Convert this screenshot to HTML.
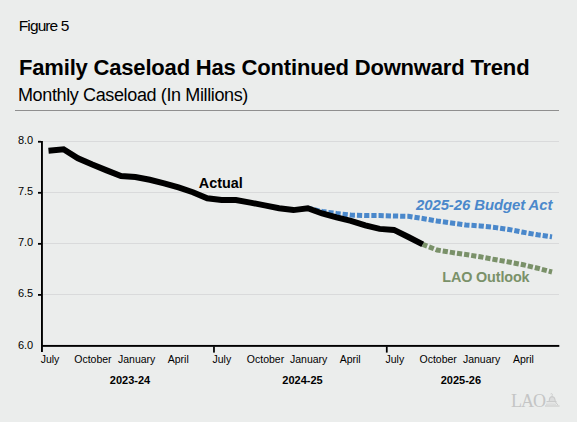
<!DOCTYPE html>
<html><head><meta charset="utf-8"><style>
html,body{margin:0;padding:0;background:#EBEDEC;}
svg{display:block;}
text{font-family:"Liberation Sans",sans-serif;}
</style></head><body>
<svg width="577" height="422" viewBox="0 0 577 422">
<rect x="0" y="0" width="577" height="422" fill="#EBEDEC"/>
<text x="18.8" y="31" font-size="15.5" letter-spacing="-0.9" fill="#000">Figure 5</text>
<text x="19" y="75" font-size="22" font-weight="bold" letter-spacing="-0.18" fill="#000">Family Caseload Has Continued Downward Trend</text>
<text x="18" y="101" font-size="18" letter-spacing="-0.37" fill="#000">Monthly Caseload (In Millions)</text>
<rect x="15" y="110" width="544" height="1" fill="#8f8f8f"/>
<g fill="#d9dadb">
<rect x="43" y="141" width="516" height="1"/>
<rect x="43" y="192" width="516" height="1"/>
<rect x="43" y="243" width="516" height="1"/>
<rect x="43" y="294" width="516" height="1"/>
</g>
<g fill="#000">
<rect x="41" y="141" width="1.9" height="211"/>
<rect x="41" y="344.95" width="518.3" height="1.9"/>
<rect x="38" y="140.85" width="3" height="1.8"/>
<rect x="38" y="191.9" width="3" height="1.8"/>
<rect x="38" y="242.95" width="3" height="1.8"/>
<rect x="38" y="294" width="3" height="1.8"/>
<rect x="213.1" y="346.5" width="1.75" height="6.1"/>
<rect x="385.9" y="346.5" width="1.75" height="6.1"/>
</g>
<g font-size="11" text-anchor="end" fill="#000">
<text x="33.2" y="144">8.0</text>
<text x="33.2" y="195">7.5</text>
<text x="33.2" y="246">7.0</text>
<text x="33.2" y="297">6.5</text>
<text x="33.2" y="349">6.0</text>
</g>
<g font-size="10.5" text-anchor="middle" fill="#000">
<text x="50" y="363">July</text>
<text x="92.9" y="363">October</text>
<text x="136.7" y="363">January</text>
<text x="178.3" y="363">April</text>
<text x="221.85" y="363">July</text>
<text x="265.5" y="363">October</text>
<text x="308.7" y="363">January</text>
<text x="350.2" y="363">April</text>
<text x="394.85" y="363">July</text>
<text x="438.2" y="363">October</text>
<text x="481.6" y="363">January</text>
<text x="523.4" y="363">April</text>
</g>
<g font-size="11" font-weight="bold" text-anchor="middle" fill="#000">
<text x="130" y="384">2023-24</text>
<text x="302.5" y="384">2024-25</text>
<text x="460.9" y="384">2025-26</text>
</g>
<polyline points="307.79,208.10 322.16,211.50 336.52,213.50 350.89,215.00 365.26,215.50 379.62,215.50 393.99,216.00 408.36,216.30 422.73,218.50 437.09,221.00 451.46,223.00 465.83,224.90 480.19,225.90 494.56,227.40 508.93,229.50 523.29,232.30 537.66,234.80 552.03,236.90" fill="none" stroke="#4a88cb" stroke-width="5" stroke-dasharray="5.2 2" stroke-dashoffset="0.621" stroke-linejoin="miter"/>
<polyline points="422.73,244.40 437.09,250.00 451.46,252.40 465.83,254.50 480.19,256.80 494.56,259.50 508.93,262.00 523.29,264.80 537.66,268.20 552.03,272.00" fill="none" stroke="#7a9169" stroke-width="5" stroke-dasharray="5.2 2" stroke-dashoffset="0.466"/>
<polyline points="48.5,150.7 63.55,149.30 77.92,158.30 92.28,164.60 106.65,170.40 121.02,176.00 135.39,177.00 149.75,179.80 164.12,183.30 178.49,187.40 192.85,192.20 207.22,198.20 221.59,200.00 235.95,200.00 250.32,202.60 264.69,205.40 279.06,208.30 293.42,210.10 307.79,208.20 322.16,213.50 336.52,217.40 350.89,220.80 365.26,225.30 379.62,228.90 393.99,229.90 408.36,237.00 422.73,244.40" fill="none" stroke="#000" stroke-width="6" stroke-linejoin="miter"/>
<text x="198.8" y="188" font-size="14.4" font-weight="bold" fill="#000">Actual</text>
<text x="416" y="209.7" font-size="14.9" letter-spacing="-0.07" font-weight="bold" font-style="italic" fill="#4a88cb">2025-26 Budget Act</text>
<text x="442.3" y="281.6" font-size="14.4" letter-spacing="-0.15" font-weight="bold" fill="#7a9169">LAO Outlook</text>
<text x="511" y="407" font-size="18" letter-spacing="-1" fill="#c4c5c5" style="font-family:'Liberation Serif',serif">LAO</text>
<g fill="none" stroke="#cacbcb">
<path d="M549.2 401 Q549.4 396.8 552.1 396.6 Q554.8 396.8 555.2 401" stroke-width="1.1" fill="#dcdddd"/>
<path d="M550.6 394 Q552.3 393.2 552.5 394.5 Q552.5 395.5 551.3 396.4" stroke-width="0.9"/>
<path d="M546.5 401.6 L556.5 401.6" stroke-width="1.2"/>
<path d="M555.2 401.6 L557.8 405" stroke-width="1"/>
<path d="M546 404.2 Q551 403.8 556 404.2" stroke-width="0.8"/>
<path d="M545 406 L559.6 406" stroke-width="1.1"/>
</g>
</svg>
</body></html>
